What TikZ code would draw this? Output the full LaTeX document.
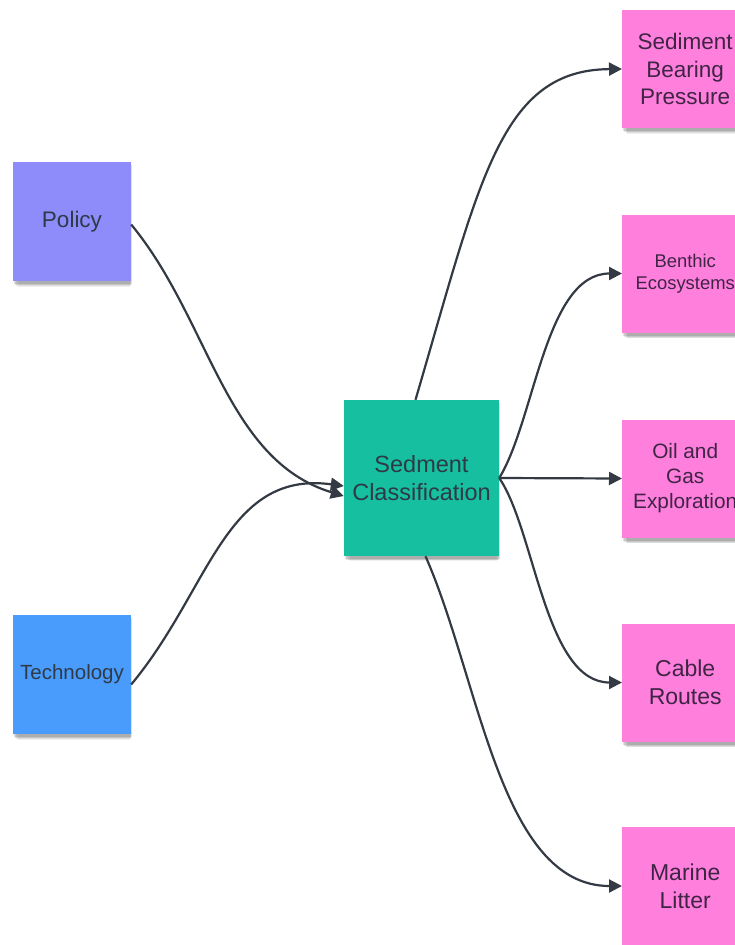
\documentclass[tikz,border=0pt]{standalone}
\usepackage{fontspec}
\setmainfont{Liberation Sans}
\usetikzlibrary{arrows.meta,shadows}
\definecolor{policyc}{HTML}{8E8BFB}
\definecolor{techc}{HTML}{4A9CFC}
\definecolor{centc}{HTML}{16BFA0}
\definecolor{pinkc}{HTML}{FF7FDD}
\definecolor{linec}{HTML}{343A44}
\definecolor{txtc}{HTML}{2E3A46}
\definecolor{ptxt}{HTML}{3F2444}
\begin{document}
\begin{tikzpicture}[x=1pt,y=-1pt,
  card/.style={inner sep=0pt, align=center,
    drop shadow={shadow xshift=2pt, shadow yshift=-9pt, opacity=0.06, fill=black, shadow scale=0.95},
    drop shadow={shadow xshift=1.5pt, shadow yshift=-7pt, opacity=0.08, fill=black, shadow scale=0.97},
    drop shadow={shadow xshift=1pt, shadow yshift=-5pt, opacity=0.10, fill=black, shadow scale=0.99},
    drop shadow={shadow xshift=0.5pt, shadow yshift=-3pt, opacity=0.12, fill=black}},
  leftcard/.style={card, minimum width=118pt, minimum height=119pt},
  pinkcard/.style={card, fill=pinkc, text=ptxt, minimum width=126pt, minimum height=118pt, anchor=west},
  conn/.style={draw=linec, line width=2.2pt, -{Triangle[length=13pt,width=13pt]}}]
\useasboundingbox (0,0) rectangle (735,945);
\fill[white] (0,0) rectangle (735,945);

\node[leftcard, fill=policyc, text=txtc, font=\fontsize{22.5}{27}\selectfont] (pol) at (72,221.5) {Policy};
\node[leftcard, fill=techc, text=txtc, font=\fontsize{20.5}{25}\selectfont] (tech) at (72,674.5) {Technology};
\node[card, fill=centc, text=txtc, minimum width=155pt, minimum height=156pt, font=\fontsize{23.5}{28}\selectfont] (cen) at (421.5,478) {Sedment\\Classification};

\node[pinkcard, font=\fontsize{22.5}{27.5}\selectfont] (sbp) at (622,69) {Sediment\\Bearing\\Pressure};
\node[pinkcard, font=\fontsize{18.4}{22.5}\selectfont] (ben) at (622,273.5) {Benthic\\Ecosystems};
\node[pinkcard, font=\fontsize{20.8}{25}\selectfont] (oil) at (622,478.5) {Oil and\\Gas\\Exploration};
\node[pinkcard, font=\fontsize{23}{28}\selectfont] (cab) at (622,682.5) {Cable\\Routes};
\node[pinkcard, font=\fontsize{23}{28}\selectfont] (mar) at (622,886) {Marine\\Litter};

\draw[conn] ([yshift=-3pt]pol.east) .. controls (210,320) and (225,460) .. ([yshift=-18pt]cen.west);
\draw[conn] ([yshift=-10pt]tech.east) .. controls (210,590) and (225,470) .. ([yshift=-8pt]cen.west);
\draw[conn] ([xshift=-6pt]cen.north) .. controls (480,180) and (500,70) .. (sbp.west);
\draw[conn] (cen.east) .. controls (535,420) and (545,273.5) .. (ben.west);
\draw[conn] (cen.east) -- (oil.west);
\draw[conn] (cen.east) .. controls (535,530) and (545,682.5) .. (cab.west);
\draw[conn] ([xshift=4pt]cen.south) .. controls (480,680) and (500,886) .. (mar.west);
\end{tikzpicture}
\end{document}
